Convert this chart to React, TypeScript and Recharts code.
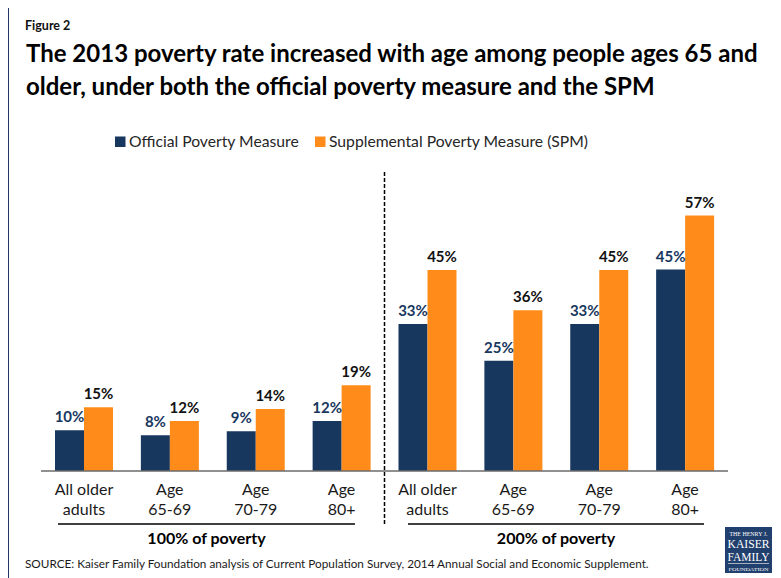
import React from "react";
import { BarChart, Bar, XAxis, YAxis, LabelList } from "recharts";

// ---------- data ----------
const categoryKeys = ["p100-all", "p100-6569", "p100-7079", "p100-80", "p200-all", "p200-6569", "p200-7079", "p200-80"];
const tickLine1 = ["All older", "Age", "Age", "Age", "All older", "Age", "Age", "Age"];
const tickLine2 = ["adults", "65-69", "70-79", "80+", "adults", "65-69", "70-79", "80+"];
const officialValues = [9.1, 8.0, 8.9, 11.2, 32.9, 24.7, 32.9, 45.1];
const spmValues = [14.3, 11.2, 13.9, 19.2, 45.0, 36.0, 45.0, 57.2];
const officialLabels = ["10%", "8%", "9%", "12%", "33%", "25%", "33%", "45%"];
const spmLabels = ["15%", "12%", "14%", "19%", "45%", "36%", "45%", "57%"];
const seriesNames = ["Official Poverty Measure", "Supplemental Poverty Measure (SPM)"];
const groupLabels = ["100% of poverty", "200% of poverty"];
const figureLabel = "Figure 2";
const titleLines = [
  "The 2013 poverty rate increased with age among people ages 65 and",
  "older, under both the official poverty measure and the SPM",
];
const sourceText =
  "SOURCE: Kaiser Family Foundation analysis of Current Population Survey, 2014 Annual Social and Economic Supplement.";

const data = categoryKeys.map((key, i) => ({
  key,
  official: officialValues[i],
  spm: spmValues[i],
  officialLabel: officialLabels[i],
  spmLabel: spmLabels[i],
}));

// ---------- layout ----------
const W = 781;
const H = 578;
const PLOT_LEFT = 41;
const PLOT_RIGHT = 728;
const PLOT_TOP = 203;
const PLOT_BOTTOM = 471;
const XAXIS_H = 60;
const BAND = (PLOT_RIGHT - PLOT_LEFT) / categoryKeys.length;

const NAVY = "#17375E";
const ORANGE = "#FF8C1A";
const FONT = "Lato, 'Open Sans', sans-serif";
const SERIF = "'Liberation Serif', serif";

const CustomTick = (props: any) => {
  const { x, index, payload } = props;
  const i = index ?? payload?.index ?? 0;
  return (
    <text x={x} y={PLOT_BOTTOM} textAnchor="middle" fill="#1a1a1a" fontSize={16} fontFamily={FONT}>
      <tspan x={x} dy={24}>{tickLine1[i]}</tspan>
      <tspan x={x} dy={19.5}>{tickLine2[i]}</tspan>
    </text>
  );
};

export default function App() {
  const dividerX = PLOT_LEFT + BAND * 4;
  const g1Center = (58 + 355) / 2;
  const g2Center = (408 + 704) / 2;
  return (
    <div
      style={{
        position: "relative",
        width: W,
        height: H,
        margin: "-8px 0 0 -8px",
        overflow: "hidden",
        background: "#ffffff",
        fontFamily: FONT,
      }}
    >
      <div style={{ position: "absolute", left: 0, top: 0 }}>
        <BarChart
          width={W}
          height={H}
          data={data}
          margin={{ top: PLOT_TOP, right: W - PLOT_RIGHT, left: PLOT_LEFT, bottom: H - PLOT_BOTTOM - XAXIS_H }}
          barGap={0}
          barSize={29}
        >
          <YAxis hide domain={[0, 60]} />
          <XAxis
            dataKey="key"
            interval={0}
            height={XAXIS_H}
            tickLine={false}
            axisLine={{ stroke: "#6b6b6b", strokeWidth: 1.5 }}
            tick={CustomTick}
          />
          <Bar dataKey="official" name={seriesNames[0]} fill={NAVY} isAnimationActive={false}>
            <LabelList
              dataKey="officialLabel"
              position="top"
              offset={8}
              fill={NAVY}
              fontSize={15}
              fontWeight={700}
              fontFamily={FONT}
            />
          </Bar>
          <Bar dataKey="spm" name={seriesNames[1]} fill={ORANGE} isAnimationActive={false}>
            <LabelList
              dataKey="spmLabel"
              position="top"
              offset={8}
              fill="#111111"
              fontSize={15}
              fontWeight={700}
              fontFamily={FONT}
            />
          </Bar>
        </BarChart>
      </div>
      <svg
        width={W}
        height={H}
        style={{ position: "absolute", left: 0, top: 0, pointerEvents: "none" }}
        fontFamily={FONT}
      >
        {/* frame */}
        <rect x={8} y={4} width={769} height={640} fill="none" stroke="#1F3864" strokeWidth={2} />
        {/* titles */}
        <text x={25} y={30} fontSize={12.5} fontWeight={700} fill="#111">{figureLabel}</text>
        <text x={26} y={62} fontSize={24} fontWeight={700} fill="#000">{titleLines[0]}</text>
        <text x={26} y={95} fontSize={24} fontWeight={700} fill="#000">{titleLines[1]}</text>
        {/* legend */}
        <rect x={115} y={136.5} width={10.5} height={10.5} fill={NAVY} />
        <text x={129} y={147} fontSize={15.7} fill="#262626">{seriesNames[0]}</text>
        <rect x={315} y={136.5} width={10.5} height={10.5} fill={ORANGE} />
        <text x={329} y={147} fontSize={15.7} fill="#262626">{seriesNames[1]}</text>
        {/* divider */}
        <line x1={dividerX} x2={dividerX} y1={172} y2={524} stroke="#000" strokeWidth={1.5} strokeDasharray="4 2" />
        {/* group underlines and labels */}
        <line x1={58} x2={355} y1={524} y2={524} stroke="#000" strokeWidth={1.3} />
        <line x1={408} x2={704} y1={524} y2={524} stroke="#000" strokeWidth={1.3} />
        <text x={g1Center} y={544} textAnchor="middle" fontSize={16} fontWeight={700} fill="#000">{groupLabels[0]}</text>
        <text x={g2Center} y={544} textAnchor="middle" fontSize={16} fontWeight={700} fill="#000">{groupLabels[1]}</text>
        {/* source */}
        <text x={25} y={568} fontSize={11.75} fill="#1a1a1a">{sourceText}</text>
        {/* logo */}
        <rect x={725} y={527} width={47} height={46} fill="#22406D" />
        <text x={748.5} y={535.5} textAnchor="middle" fontSize={5.5} fill="#fff" fontFamily={SERIF} textLength={38} lengthAdjust="spacingAndGlyphs">THE HENRY J.</text>
        <text x={748.5} y={547.5} textAnchor="middle" fontSize={11.5} fill="#fff" fontFamily={SERIF} textLength={42} lengthAdjust="spacingAndGlyphs">KAISER</text>
        <text x={748.5} y={560.5} textAnchor="middle" fontSize={11.5} fill="#fff" fontFamily={SERIF} textLength={42} lengthAdjust="spacingAndGlyphs">FAMILY</text>
        <line x1={728} x2={769} y1={563.5} y2={563.5} stroke="#fff" strokeWidth={0.6} />
        <text x={748.5} y={570.5} textAnchor="middle" fontSize={5} fill="#fff" fontFamily={SERIF} textLength={40} lengthAdjust="spacingAndGlyphs">FOUNDATION</text>
      </svg>
    </div>
  );
}
